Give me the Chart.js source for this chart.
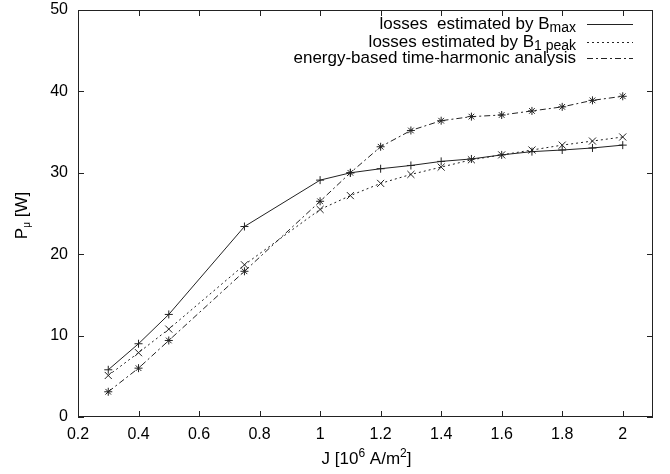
<!DOCTYPE html>
<html>
<head>
<meta charset="utf-8">
<script src="https://cdn.jsdelivr.net/npm/chart.js@4.4.0/dist/chart.umd.min.js"></script>
<style>
  html, body { margin: 0; padding: 0; background: #fff; }
  #wrap { position: relative; width: 670px; height: 474px; }
</style>
</head>
<body>
<div id="wrap"><canvas id="chart"></canvas></div>
<script>
// current density J [10^6 A/m^2]
const jValues = [0.3, 0.4, 0.5, 0.75, 1.0, 1.1, 1.2, 1.3, 1.4, 1.5, 1.6, 1.7, 1.8, 1.9, 2.0];
// losses P_mu [W]
const lossBmax = [5.8, 9.0, 12.6, 23.4, 29.1, 30.0, 30.5, 30.9, 31.4, 31.7, 32.2, 32.6, 32.8, 33.05, 33.4];
const lossB1peak = [5.1, 7.9, 10.8, 18.7, 25.5, 27.2, 28.7, 29.8, 30.7, 31.6, 32.2, 32.8, 33.4, 33.9, 34.4];
const lossEnergy = [3.1, 6.0, 9.4, 17.9, 26.5, 30.0, 33.2, 35.2, 36.4, 36.9, 37.1, 37.6, 38.1, 38.9, 39.4];

const xTicks = [0.2, 0.4, 0.6, 0.8, 1, 1.2, 1.4, 1.6, 1.8, 2];
const yTicks = [0, 10, 20, 30, 40, 50];

// legend text, pieces with optional sub/superscript
const legendRows = [
  [{ t: 'losses  estimated by B' }, { t: 'max', s: 'sub' }],
  [{ t: 'losses estimated by B' }, { t: '1 peak', s: 'sub' }],
  [{ t: 'energy-based time-harmonic analysis' }],
];
const xTitle = [{ t: 'J [10' }, { t: '6', s: 'sup' }, { t: ' A/m' }, { t: '2', s: 'sup' }, { t: ']' }];
const yTitle = [{ t: 'P' }, { t: 'μ', s: 'sub' }, { t: ' [W]' }];

const FONT = '"Liberation Sans", Arial, Helvetica, sans-serif';
const INK = '#222';

function toPoints(vals) {
  return jValues.map((x, i) => ({ x, y: vals[i] }));
}

// sz = [main size, small size]; y is the vertical centre of the main text
function drawRich(ctx, parts, x, y, align, sz) {
  let w = 0;
  parts.forEach((p) => {
    ctx.font = (p.s ? sz[1] : sz[0]) + 'px ' + FONT;
    w += ctx.measureText(p.t).width;
  });
  let cx = align === 'right' ? x - w : align === 'center' ? x - w / 2 : x;
  const base = y + sz[0] * 0.36;
  ctx.textBaseline = 'alphabetic';
  ctx.textAlign = 'left';
  parts.forEach((p) => {
    ctx.font = (p.s ? sz[1] : sz[0]) + 'px ' + FONT;
    const dy = p.s === 'sub' ? 3 : p.s === 'sup' ? -sz[0] * 0.42 : 0;
    ctx.fillText(p.t, cx, base + dy);
    cx += ctx.measureText(p.t).width;
  });
}

// frame, inward ticks, titles and the legend, drawn gnuplot-style
const gnuplotFrame = {
  id: 'gnuplotFrame',
  afterDraw(chart) {
    const { ctx, chartArea: a, scales } = chart;
    ctx.save();
    ctx.strokeStyle = INK;
    ctx.lineWidth = 1;
    ctx.setLineDash([]);
    ctx.strokeRect(a.left + 0.5, a.top + 0.5, a.right - a.left - 1, a.bottom - a.top - 1);

    const tl = 6;
    ctx.beginPath();
    scales.x.ticks.forEach((t) => {
      const px = Math.round(scales.x.getPixelForValue(t.value)) + 0.5;
      ctx.moveTo(px, a.bottom); ctx.lineTo(px, a.bottom - tl);
      ctx.moveTo(px, a.top); ctx.lineTo(px, a.top + tl);
    });
    scales.y.ticks.forEach((t) => {
      const py = Math.round(scales.y.getPixelForValue(t.value)) + 0.5;
      ctx.moveTo(a.left, py); ctx.lineTo(a.left + tl, py);
      ctx.moveTo(a.right, py); ctx.lineTo(a.right - tl, py);
    });
    ctx.stroke();

    ctx.fillStyle = '#000';
    drawRich(ctx, xTitle, (a.left + a.right) / 2 + 1, 458, 'center', [17, 12]);
    ctx.save();
    ctx.translate(21, (a.top + a.bottom) / 2 + 2);
    ctx.rotate(-Math.PI / 2);
    drawRich(ctx, yTitle, 0, 0, 'center', [17, 10]);
    ctx.restore();

    const rowY = [24, 41.5, 58];
    chart.data.datasets.forEach((ds, i) => {
      ctx.fillStyle = '#000';
      drawRich(ctx, legendRows[i], 576, rowY[i] - 1, 'right', [17, 14]);
      ctx.strokeStyle = ds.borderColor;
      ctx.lineWidth = ds.borderWidth;
      ctx.setLineDash(ds.borderDash || []);
      ctx.beginPath();
      ctx.moveTo(587, Math.round(rowY[i]) + 0.5);
      ctx.lineTo(633, Math.round(rowY[i]) + 0.5);
      ctx.stroke();
    });
    ctx.restore();
  },
};

const lineBase = {
  borderColor: INK,
  pointBorderColor: INK,
  backgroundColor: INK,
  borderWidth: 1,
  pointBorderWidth: 1,
  fill: false,
  tension: 0,
};

new Chart(document.getElementById('chart'), {
  type: 'scatter',
  data: {
    datasets: [
      { ...lineBase, label: 'losses estimated by Bmax', data: toPoints(lossBmax), showLine: true,
        pointStyle: 'cross', pointRadius: 4 },
      { ...lineBase, label: 'losses estimated by B1 peak', data: toPoints(lossB1peak), showLine: true,
        borderDash: [2, 3], pointStyle: 'crossRot', pointRadius: 5 },
      { ...lineBase, label: 'energy-based time-harmonic analysis', data: toPoints(lossEnergy), showLine: true,
        borderDash: [6, 3, 2, 3], pointStyle: 'star', pointRadius: 4 },
    ],
  },
  options: {
    responsive: true,
    maintainAspectRatio: false,
    animation: false,
    layout: { padding: { top: 10, right: 17, left: 0, bottom: 0 } },
    plugins: { legend: { display: false }, tooltip: { enabled: false } },
    scales: {
      x: {
        type: 'linear', min: 0.2, max: 2.1,
        afterBuildTicks: (s) => { s.ticks = xTicks.map((v) => ({ value: v })); },
        afterFit: (s) => { s.height = 57; s.paddingLeft = 0; s.paddingRight = 0; },
        grid: { display: false, drawTicks: false },
        border: { display: false },
        ticks: { color: '#000', padding: 8, font: { family: FONT, size: 16 }, maxRotation: 0,
          callback: (v) => String(+(+v).toFixed(1)) },
      },
      y: {
        type: 'linear', min: 0, max: 50,
        afterBuildTicks: (s) => { s.ticks = yTicks.map((v) => ({ value: v })); },
        afterFit: (s) => { s.width = 78; s.paddingTop = 0; s.paddingBottom = 0; },
        grid: { display: false, drawTicks: false },
        border: { display: false },
        ticks: { color: '#000', padding: 10, font: { family: FONT, size: 16 } },
      },
    },
  },
  plugins: [gnuplotFrame],
});
</script>
</body>
</html>
